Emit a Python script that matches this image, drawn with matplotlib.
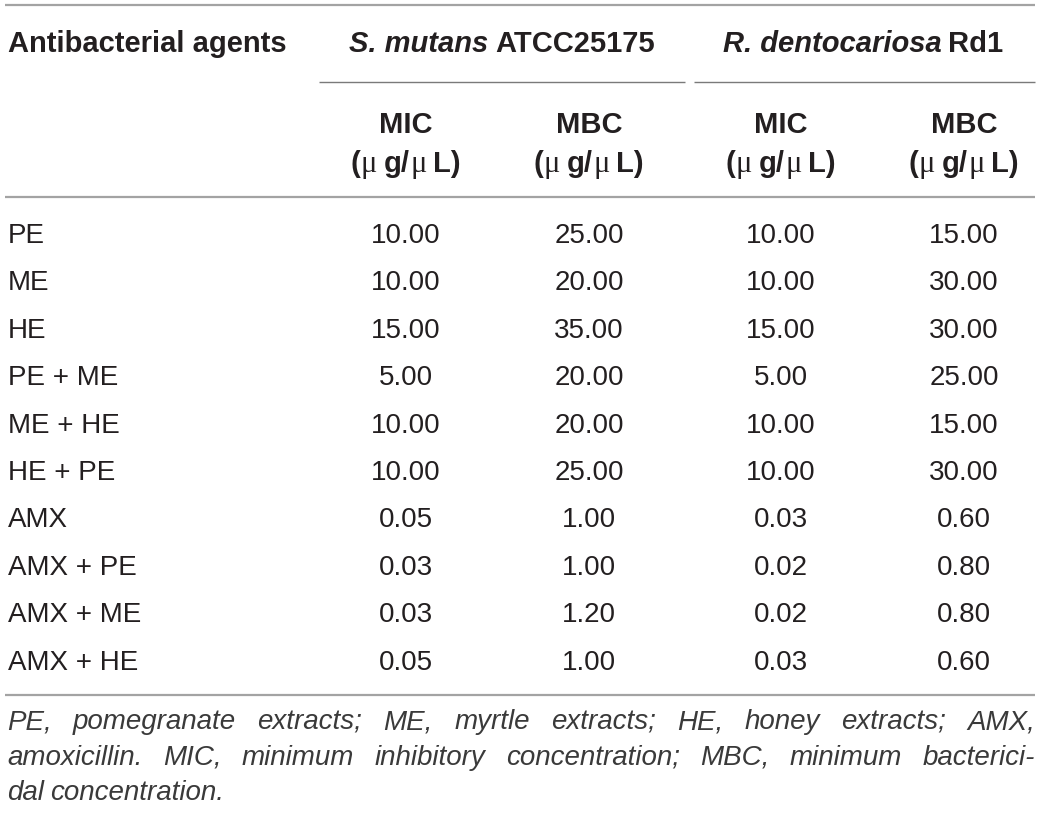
import matplotlib
matplotlib.use("Agg")
import matplotlib.pyplot as plt

agents = ["PE", "ME", "HE", "PE + ME", "ME + HE", "HE + PE",
          "AMX", "AMX + PE", "AMX + ME", "AMX + HE"]
smutans_mic = [10.00, 10.00, 15.00, 5.00, 10.00, 10.00, 0.05, 0.03, 0.03, 0.05]
smutans_mbc = [25.00, 20.00, 35.00, 20.00, 20.00, 25.00, 1.00, 1.00, 1.20, 1.00]
rdento_mic = [10.00, 10.00, 15.00, 5.00, 10.00, 10.00, 0.03, 0.02, 0.02, 0.03]
rdento_mbc = [15.00, 30.00, 30.00, 25.00, 15.00, 30.00, 0.60, 0.80, 0.80, 0.60]

groups = [("S. mutans", "ATCC25175"), ("R. dentocariosa", "Rd1")]
subcols = ["MIC", "MBC", "MIC", "MBC"]
footnote_lines = [
    "PE, pomegranate extracts; ME, myrtle extracts; HE, honey extracts; AMX,",
    "amoxicillin. MIC, minimum inhibitory concentration; MBC, minimum bacterici-",
    "dal concentration.",
]

plt.rcParams['font.family'] = ['Liberation Sans', 'DejaVu Sans']
INK = '#231f20'
RULE = '#a3a3a3'

fig = plt.figure(figsize=(10.4, 8.13), dpi=100)
ax = fig.add_axes([0, 0, 1, 1])
ax.set_xlim(0, 1040)
ax.set_ylim(813, 0)
ax.axis('off')
r = fig.canvas.get_renderer()

col_x = [406, 589, 781, 964]
group_x = [502, 863]
row0, row_step = 243, 47.4
fs = 20
hfs = 21


def runs(cx, y, parts):
    # parts: (text, gap_after, kwargs) drawn side by side, centred on cx
    texts, widths = [], []
    for s, gap, kw in parts:
        t = ax.text(0, y, s, color=INK, va='baseline', **kw)
        texts.append(t)
        widths.append(t.get_window_extent(r).width)
    total = sum(widths) + sum(p[1] for p in parts[:-1])
    x = cx - total / 2
    for t, w, p in zip(texts, widths, parts):
        t.set_x(x)
        x += w + p[1]


# rules
ax.plot([5, 1035], [5, 5], color=RULE, lw=1.6, solid_capstyle='butt')
ax.plot([319, 685], [82.5, 82.5], color='#7a7a7a', lw=1.0, solid_capstyle='butt')
ax.plot([694, 1035], [82.5, 82.5], color='#7a7a7a', lw=1.0, solid_capstyle='butt')
ax.plot([5, 1035], [197.5, 197.5], color=RULE, lw=1.6, solid_capstyle='butt')
ax.plot([5, 1035], [695, 695], color=RULE, lw=1.6, solid_capstyle='butt')

# header
bold = dict(fontsize=hfs, fontweight='bold')
mu = dict(fontsize=hfs + 1, family='Liberation Serif')
ax.text(8, 52, "Antibacterial agents", color=INK, va='baseline', **bold)
for (sp, strain), gx in zip(groups, group_x):
    runs(gx, 52, [(sp, 7, dict(style='italic', **bold)), (strain, 0, bold)])

for name, cx in zip(subcols, col_x):
    ax.text(cx, 133, name, color=INK, ha='center', va='baseline', **bold)
    runs(cx, 172, [("(", 0, bold), ("\u03bc", 7, mu), ("g/", 0, bold),
                   ("\u03bc", 7, mu), ("L)", 0, bold)])

# body
for i, a in enumerate(agents):
    y = row0 + i * row_step
    ax.text(8, y, a, fontsize=fs, color=INK, va='baseline')
    for vals, cx in zip([smutans_mic, smutans_mbc, rdento_mic, rdento_mbc], col_x):
        ax.text(cx, y, f"{vals[i]:.2f}", fontsize=fs, color=INK, ha='center', va='baseline')


# footnote, justified like the journal layout
def justify(line, y, x0, x1, last=False):
    words = line.split(" ")
    texts = [ax.text(0, y, w, fontsize=20, style='italic', color='#3a3a3a', va='baseline')
             for w in words]
    widths = [t.get_window_extent(r).width for t in texts]
    gap = 6.5 if last else (x1 - x0 - sum(widths)) / (len(words) - 1)
    x = x0
    for t, w in zip(texts, widths):
        t.set_x(x)
        x += w + gap


for k, line in enumerate(footnote_lines):
    justify(line, 729 + k * 35.5, 7, 1035, last=(k == len(footnote_lines) - 1))

fig.savefig("out.png", dpi=100)
